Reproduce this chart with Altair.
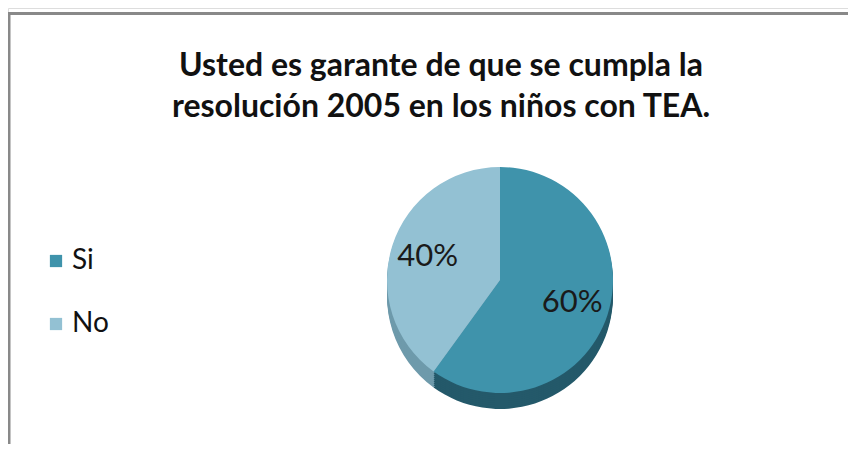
import altair as alt
import pandas as pd

CATEGORIES = ["Si", "No"]
VALUES = [60, 40]
LABELS = ["60%", "40%"]
TITLE_LINES = ["Usted es garante de que se cumpla la",
               "resolución 2005 en los niños con TEA."]

df = pd.DataFrame({"cat": CATEGORIES, "value": VALUES, "label": LABELS,
                   "order": list(range(len(CATEGORIES)))})

FONT = "Lato"
CX, CY = 492, 272
R = 113
DEPTH = 16
TOP_COLORS = ["#3f93ab", "#93c1d3"]
SIDE_SI = "#24596a"
SIDE_NO = "#6e9aab"

base = alt.Chart(df).encode(
    theta=alt.Theta("value:Q", stack=True),
    order=alt.Order("order:Q"),
)

layers = []
for d in range(DEPTH, 0, -2):
    layers.append(
        base.mark_arc(outerRadius=R).encode(
            x=alt.value(CX), y=alt.value(CY + d),
            color=alt.condition(alt.datum.cat == "Si", alt.value(SIDE_SI), alt.value(SIDE_NO)),
        )
    )

top = base.mark_arc(outerRadius=R).encode(
    x=alt.value(CX), y=alt.value(CY),
    color=alt.Color(
        "cat:N",
        sort=CATEGORIES,
        scale=alt.Scale(domain=CATEGORIES, range=TOP_COLORS),
        legend=alt.Legend(
            title=None, orient="none", legendX=34, legendY=239,
            symbolType="square", symbolSize=150, symbolStrokeWidth=0,
            labelFont=FONT, labelFontSize=28, labelColor="#111111",
            labelOffset=2, rowPadding=35, padding=0,
        ),
    ),
)

labels = base.mark_text(radius=76, font=FONT, fontSize=31, color="#1a1a1a").encode(
    x=alt.value(CX), y=alt.value(CY), text="label:N",
)

title = alt.Chart(pd.DataFrame({"t": [0]})).mark_text(
    text=TITLE_LINES, font=FONT, fontSize=32, fontWeight="bold",
    lineHeight=41, align="center", baseline="middle", color="#111111",
).encode(x=alt.value(433), y=alt.value(58))

frame_top = alt.Chart(pd.DataFrame({"t": [0]})).mark_rule(
    color="#898989", strokeWidth=3).encode(
    x=alt.value(0), x2=alt.value(840), y=alt.value(5.5))
frame_left = alt.Chart(pd.DataFrame({"t": [0]})).mark_rule(
    color="#898989", strokeWidth=3).encode(
    x=alt.value(1), y=alt.value(4), y2=alt.value(436))

chart = alt.layer(*layers, top, labels, title, frame_top, frame_left).properties(
    width=840, height=436, padding=0, autosize=alt.AutoSizeParams(type="none"),
).configure_view(stroke=None).configure(background="white")

chart.save("out.html", embed_options={"renderer": "svg", "actions": False})
